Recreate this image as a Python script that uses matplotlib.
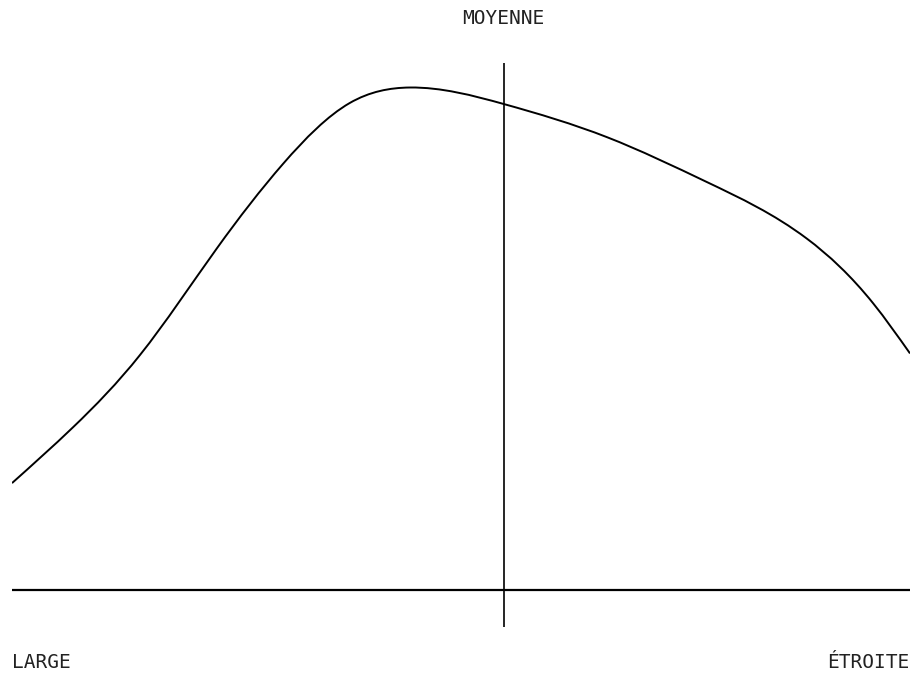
import matplotlib
matplotlib.use('Agg')
import matplotlib.pyplot as plt
import numpy as np
from matplotlib.path import Path
from matplotlib.patches import PathPatch

# curve, x: 0 (large) .. 100 (etroite), y: 0 = baseline
curve_x = [0.0, 6.8, 14.25, 22.8, 30.2, 37.6, 44.3, 54.8, 66.3, 77.4, 88.5,
           95.9, 100.0]
curve_y = [20.3, 30.9, 44.6, 64.8, 80.9, 92.4, 95.35, 92.2, 85.9, 77.4, 66.7,
           54.4, 44.9]

mean_x = 54.8
label_top = 'MOYENNE'
label_left = 'LARGE'
label_right = 'ÉTROITE'


def smooth_path(xs, ys):
    # natural cubic spline through the read points, drawn as bezier segments
    x = np.asarray(xs, float)
    y = np.asarray(ys, float)
    n = len(x)
    h = np.diff(x)
    d = np.diff(y) / h
    A = np.zeros((n, n))
    r = np.zeros(n)
    A[0, 0] = A[-1, -1] = 1
    for i in range(1, n - 1):
        A[i, i - 1] = h[i - 1]
        A[i, i] = 2 * (h[i - 1] + h[i])
        A[i, i + 1] = h[i]
        r[i] = 6 * (d[i] - d[i - 1])
    M = np.linalg.solve(A, r)
    m = np.empty(n)
    m[:-1] = d - h * (2 * M[:-1] + M[1:]) / 6
    m[-1] = d[-1] + h[-1] * (M[-2] + 2 * M[-1]) / 6
    verts, codes = [(x[0], y[0])], [Path.MOVETO]
    for i in range(n - 1):
        verts += [(x[i] + h[i] / 3, y[i] + m[i] * h[i] / 3),
                  (x[i + 1] - h[i] / 3, y[i + 1] - m[i + 1] * h[i] / 3),
                  (x[i + 1], y[i + 1])]
        codes += [Path.CURVE4] * 3
    return Path(verts, codes)


W, H = 912, 678
fig = plt.figure(figsize=(W / 100, H / 100), dpi=100)
ax = fig.add_axes([12 / W, 51 / H, 898 / W, 564 / H])
ax.set_xlim(0, 100)
ax.set_ylim(-7, 100)
ax.axis('off')

ax.add_patch(PathPatch(smooth_path(curve_x, curve_y), fill=False,
                       edgecolor='black', lw=1.4, capstyle='butt'))
ax.plot([0, 100], [0, 0], color='black', lw=1.6)
ax.plot([mean_x, mean_x], [-7, 100], color='black', lw=1.2)

txt = dict(family='DejaVu Sans Mono', fontsize=14, color='#222222', va='center')
fig.text(503 / W, 1 - 18 / H, label_top, ha='center', **txt)
fig.text(12 / W, 1 - 663 / H, label_left, ha='left', **txt)
fig.text(909 / W, 1 - 663 / H, label_right, ha='right', **txt)

fig.savefig('out.png', dpi=100)
